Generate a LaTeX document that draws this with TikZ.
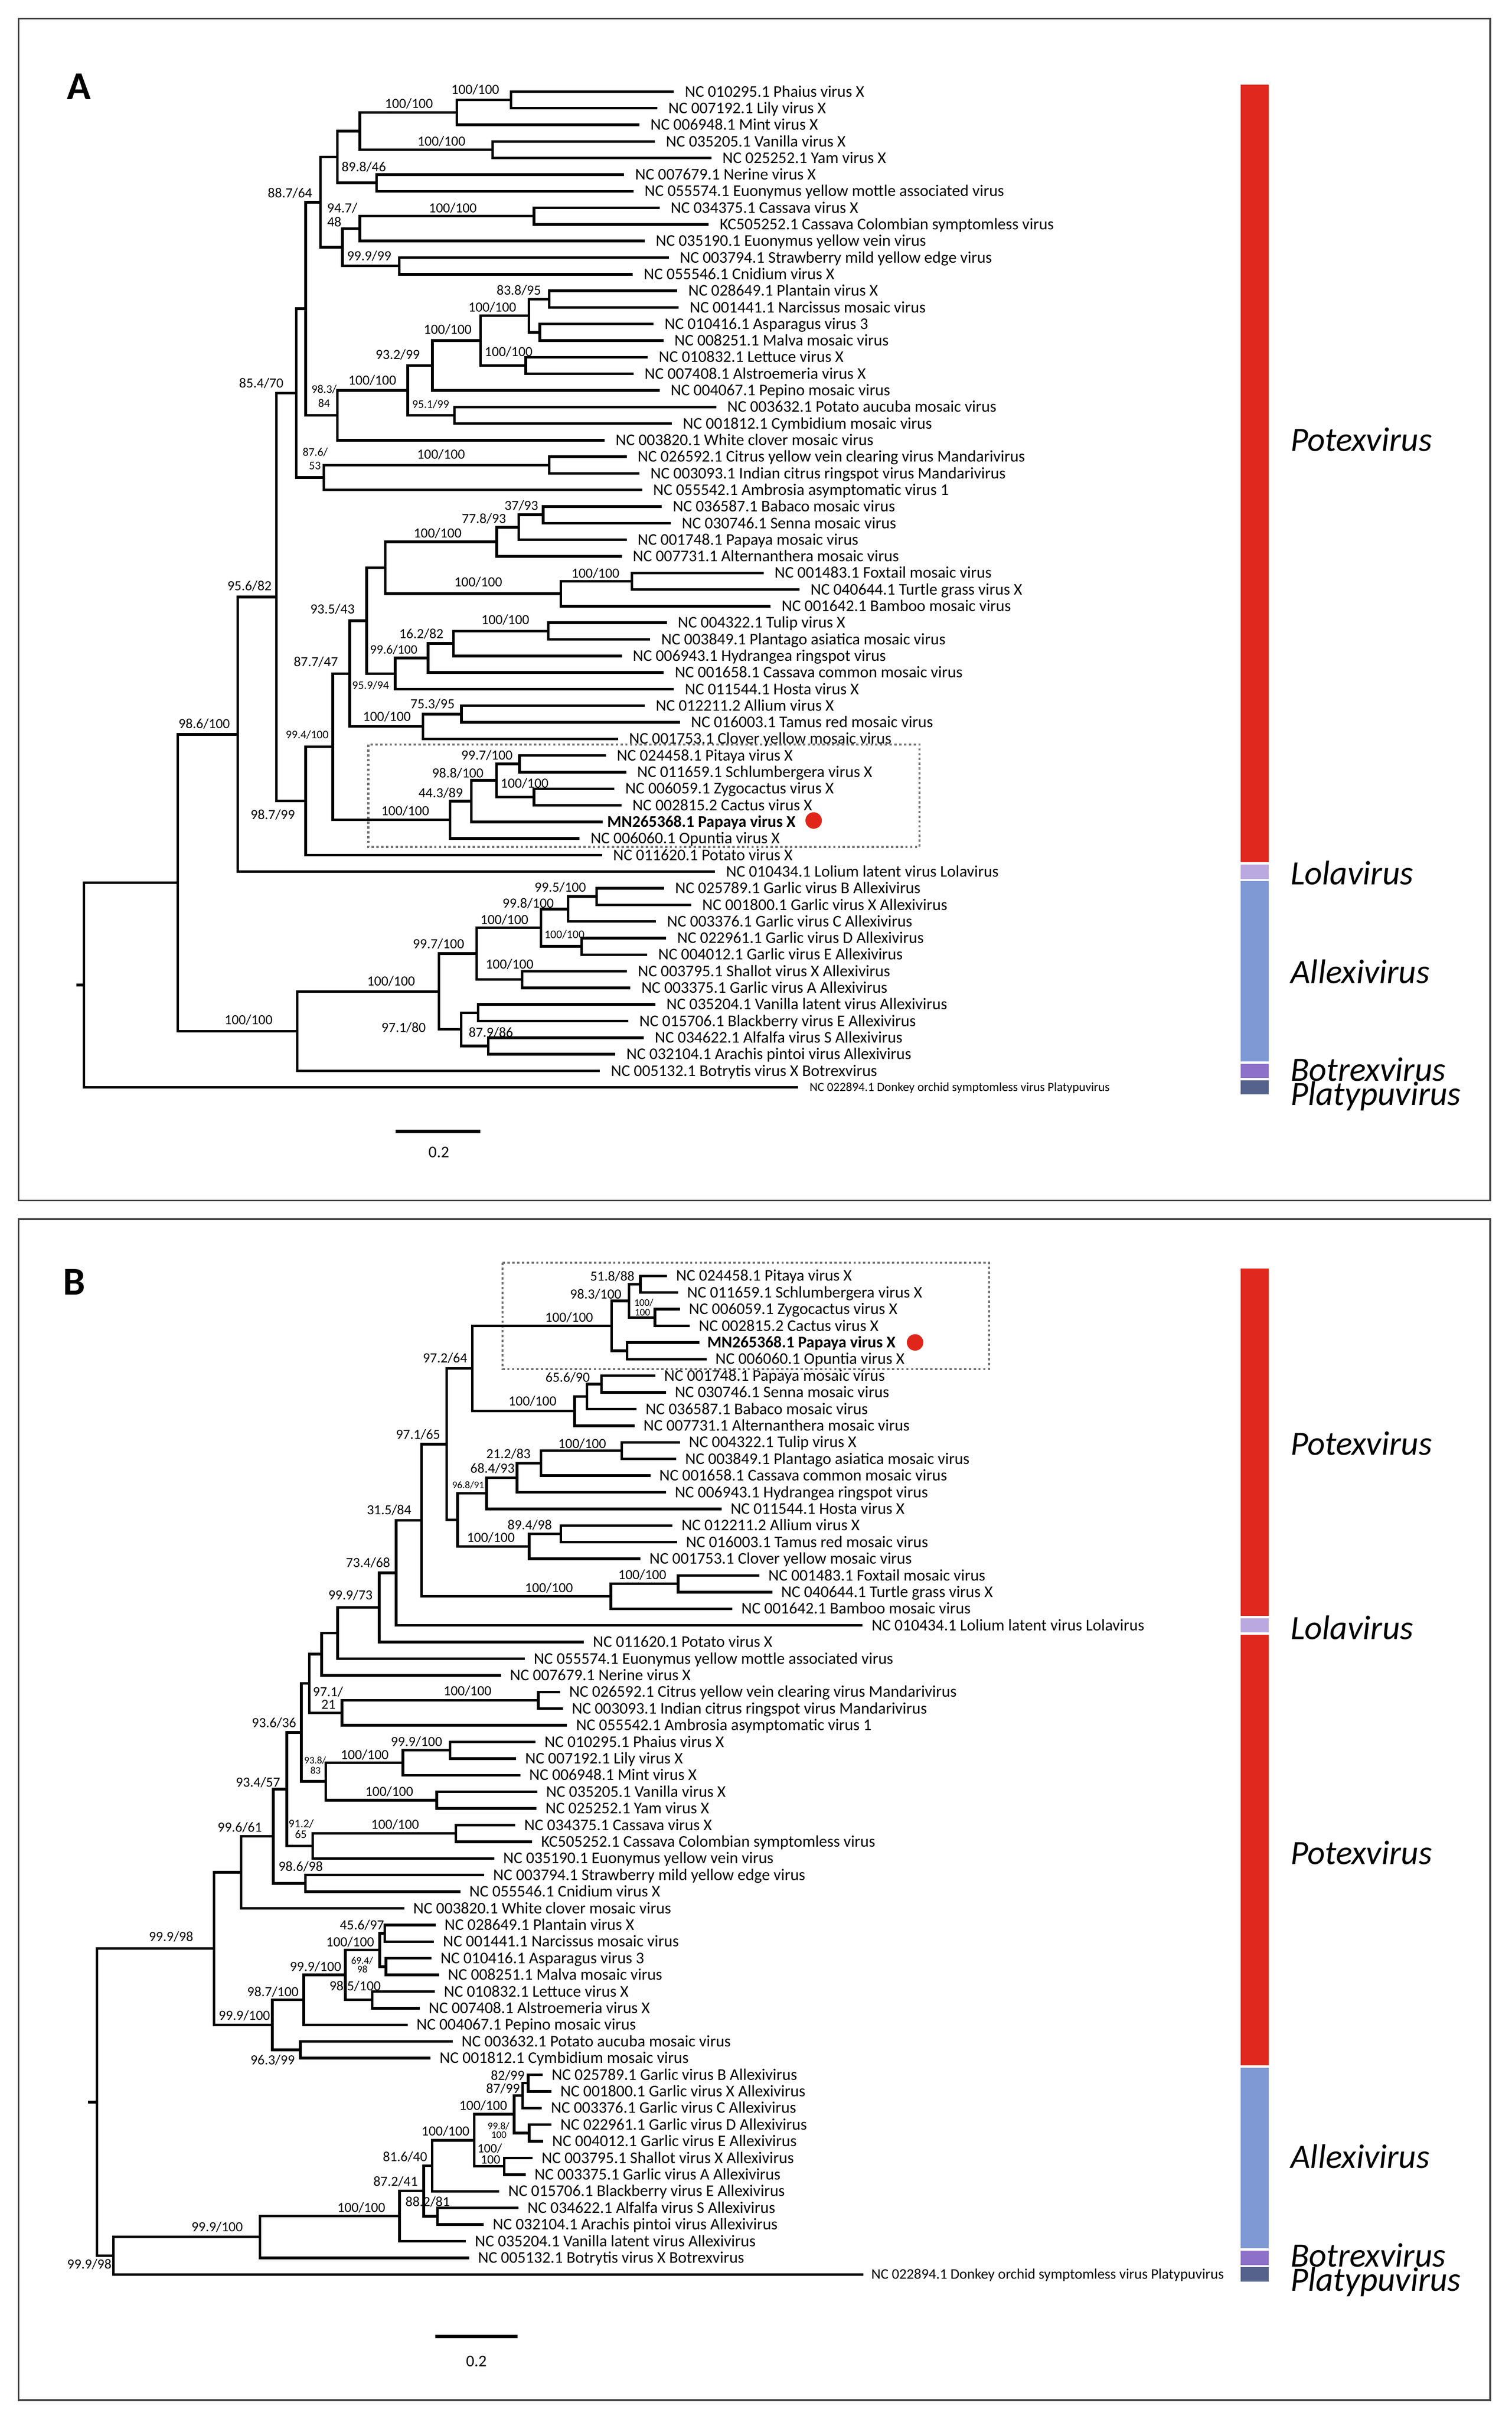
\documentclass[tikz,border=0pt]{standalone}
\usepackage{fontspec}
\setmainfont{Carlito}
\definecolor{potex}{HTML}{E0281E}
\definecolor{lola}{HTML}{B9A9E0}
\definecolor{allexi}{HTML}{7F99D4}
\definecolor{botrex}{HTML}{8D70C9}
\definecolor{platy}{HTML}{55638C}
\definecolor{dotred}{HTML}{E0261B}
\tikzset{
  br/.style={line width=1.7pt, line join=miter, line cap=butt},
  leaf/.style={anchor=west, inner sep=0pt, font=\fontsize{10.5}{12}\selectfont, text height=6.64pt, text depth=0pt},
  bs/.style={inner sep=0pt, font=\fontsize{9}{10}\selectfont, text height=5.69pt, text depth=0pt},
  bsm/.style={inner sep=0pt, font=\fontsize{8.3}{9}\selectfont, text height=5.25pt, text depth=0pt},
  bss/.style={inner sep=0pt, font=\fontsize{7.5}{8}\selectfont, text height=4.74pt, text depth=0pt},
  bsxs/.style={inner sep=0pt, font=\fontsize{6.5}{7}\selectfont, text height=4.1pt, text depth=0pt},
  genus/.style={anchor=west, inner sep=0pt, font=\fontsize{22}{24}\selectfont\itshape, text height=13.9pt, text depth=0pt},
  panelbox/.style={draw=black!75, line width=1.2pt},
  cladebox/.style={draw=black!55, line width=1.3pt, dash pattern=on 1.5pt off 1.6pt},
  panelletter/.style={inner sep=0pt, font=\fontsize{25.5}{28}\selectfont\bfseries, text height=16.1pt, text depth=0pt},
  scalebar/.style={line width=2.1pt},
  scaletext/.style={inner sep=0pt, font=\fontsize{10.5}{12}\selectfont, text height=6.64pt, text depth=0pt},
  reddot/.style={circle, fill=dotred, draw=none, minimum size=10.6pt, inner sep=0pt},
}
\begin{document}
\begin{tikzpicture}[x=1pt,y=-1pt]
\useasboundingbox (0,0) rectangle (975,1559.6);
\fill[white] (0,0) rectangle (975,1559.6);
% panel frames
\draw[panelbox] (12,12) rectangle (961,774);
\draw[panelbox] (12,786) rectangle (961,1547.5);
\node[panelletter] (letA) at (51,56.2) {A};
\node[panelletter] (letB) at (47.8,826.7) {B};

% ================= PANEL A =================
\draw[cladebox] (237.5,480) rectangle (593,546);
\begin{scope}[yshift=-48.4pt, y=-10.7pt]
\foreach \i/\x/\t in {
1/434.6/{NC 010295.1 Phaius virus X},
2/423.9/{NC 007192.1 Lily virus X},
3/412.4/{NC 006948.1 Mint virus X},
4/422.4/{NC 035205.1 Vanilla virus X},
5/458.8/{NC 025252.1 Yam virus X},
6/402.5/{NC 007679.1 Nerine virus X},
7/408.6/{NC 055574.1 Euonymus yellow mottle associated virus},
8/425.4/{NC 034375.1 Cassava virus X},
9/457.1/{KC505252.1 Cassava Colombian symptomless virus},
10/415.8/{NC 035190.1 Euonymus yellow vein virus},
11/431.3/{NC 003794.1 Strawberry mild yellow edge virus},
12/408.0/{NC 055546.1 Cnidium virus X},
13/436.8/{NC 028649.1 Plantain virus X},
14/437.7/{NC 001441.1 Narcissus mosaic virus},
15/421.5/{NC 010416.1 Asparagus virus 3},
16/427.8/{NC 008251.1 Malva mosaic virus},
17/417.8/{NC 010832.1 Lettuce virus X},
18/408.6/{NC 007408.1 Alstroemeria virus X},
19/425.4/{NC 004067.1 Pepino mosaic virus},
20/461.9/{NC 003632.1 Potato aucuba mosaic virus},
21/433.3/{NC 001812.1 Cymbidium mosaic virus},
22/389.9/{NC 003820.1 White clover mosaic virus},
23/404.1/{NC 026592.1 Citrus yellow vein clearing virus Mandarivirus},
24/412.4/{NC 003093.1 Indian citrus ringspot virus Mandarivirus},
25/414.1/{NC 055542.1 Ambrosia asymptomatic virus 1},
26/426.8/{NC 036587.1 Babaco mosaic virus},
27/432.6/{NC 030746.1 Senna mosaic virus},
28/404.1/{NC 001748.1 Papaya mosaic virus},
29/401.0/{NC 007731.1 Alternanthera mosaic virus},
30/492.4/{NC 001483.1 Foxtail mosaic virus},
31/515.6/{NC 040644.1 Turtle grass virus X},
32/497.0/{NC 001642.1 Bamboo mosaic virus},
33/430.0/{NC 004322.1 Tulip virus X},
34/419.3/{NC 003849.1 Plantago asiatica mosaic virus},
35/401.0/{NC 006943.1 Hydrangea ringspot virus},
36/428.1/{NC 001658.1 Cassava common mosaic virus},
37/434.6/{NC 011544.1 Hosta virus X},
38/415.8/{NC 012211.2 Allium virus X},
39/438.5/{NC 016003.1 Tamus red mosaic virus},
40/398.6/{NC 001753.1 Clover yellow mosaic virus},
41/390.7/{NC 024458.1 Pitaya virus X},
42/403.8/{NC 011659.1 Schlumbergera virus X},
43/396.2/{NC 006059.1 Zygocactus virus X},
44/400.8/{NC 002815.2 Cactus virus X},
46/373.8/{NC 006060.1 Opuntia virus X},
47/388.3/{NC 011620.1 Potato virus X},
48/461.1/{NC 010434.1 Lolium latent virus Lolavirus},
49/428.3/{NC 025789.1 Garlic virus B Allexivirus},
50/445.8/{NC 001800.1 Garlic virus X Allexivirus},
51/423.1/{NC 003376.1 Garlic virus C Allexivirus},
52/429.6/{NC 022961.1 Garlic virus D Allexivirus},
53/417.4/{NC 004012.1 Garlic virus E Allexivirus},
54/404.3/{NC 003795.1 Shallot virus X Allexivirus},
55/406.5/{NC 003375.1 Garlic virus A Allexivirus},
56/422.7/{NC 035204.1 Vanilla latent virus Allexivirus},
57/405.2/{NC 015706.1 Blackberry virus E Allexivirus},
58/415.2/{NC 034622.1 Alfalfa virus S Allexivirus},
59/396.9/{NC 032104.1 Arachis pintoi virus Allexivirus},
60/386.9/{NC 005132.1 Botrytis virus X Botrexvirus}}{
  \coordinate (A\i) at (\x,\i);
  \node[leaf] (tA\i) at ([xshift=6.9pt]A\i) {\t};
}
\coordinate (A45) at (388.6,45);
\node[leaf, font=\fontsize{10.5}{12}\selectfont\bfseries] (tA45) at ([xshift=2.8pt]A45) {MN265368.1 Papaya virus X};
\coordinate (A61) at (514.8,61);
\node[leaf, font=\fontsize{8}{9}\selectfont, text height=5.06pt] (tA61) at ([xshift=7.1pt]A61) {NC 022894.1 Donkey orchid symptomless virus Platypuvirus};
\foreach \n/\x/\r/\c/\d in {
a1/329.6/1.5/A1/A2, a2/294.6/2.25/a1/A3, a3/317.6/4.5/A4/A5, a4/232.0/3.375/a2/a3,
a5/242.9/6.5/A6/A7, a6/217.6/4.9375/a4/a5, a7/344.4/8.5/A8/A9, a8/232.0/9.25/a7/A10,
a9/257.5/11.5/A11/A12, a10/220.9/10.375/a8/a9, a11/206.7/7.65625/a6/a10,
a12/354.2/13.5/A13/A14, a13/348.1/15.5/A15/A16, a14/341.1/14.5/a12/a13,
a15/339.0/17.5/A17/A18, a16/309.9/16/a14/a15, a17/278.9/17.5/a16/A19,
a18/293.1/20.5/A20/A21, a19/263.0/19/a17/a18, a20/217.6/20.5/a19/A22,
a21/197.1/14.078/a11/a20, a22/354.2/23.5/A23/A24, a23/208.9/24.25/a22/A25,
a24/191.0/19.164/a21/a23, a25/350.3/26.5/A26/A27, a26/334.6/27.25/a25/A28,
a27/320.4/28.125/a26/A29, a28/407.6/30.5/A30/A31, a29/361.7/31.25/a28/A32,
a30/248.4/29.6875/a27/a29, a31/353.6/33.5/A33/A34, a32/292.4/34.25/a31/A35,
a33/276.1/35.125/a32/A36, a34/254.9/36.0625/a33/A37, a35/236.4/32.875/a30/a34,
a36/297.5/38.5/A38/A39, a37/272.8/39.25/a36/A40, a38/225.5/36.0625/a35/a37,
a39/335.0/41.5/A41/A42, a40/344.4/43.5/A43/A44, a41/320.2/42.5/a39/a40,
a42/304.0/43.75/a41/A45, a43/290.3/44.875/a42/A46, a44/214.6/40.469/a38/a43,
a45/197.1/43.734/a44/A47, a46/178.3/31.449/a24/a45, a47/153.3/39.725/a46/A48,
a48/384.7/49.5/A49/A50, a49/366.3/50.25/a48/A51, a50/375.1/52.5/A52/A53,
a51/348.9/51.375/a49/a50, a52/336.7/54.5/A54/A55, a53/307.4/52.9375/a51/a52,
a54/308.3/56.5/A56/A57, a55/314.8/58.5/A58/A59, a56/297.4/57.5/a54/a55,
a57/283.0/55.219/a53/a56, a58/191.7/57.609/a57/A60, a59/114.6/48.667/a47/a58,
rA/54.2/54.833/a59/A61}{
  \coordinate (\n) at (\x,\r);
  \draw[br] (\c) -| (\n) |- (\d);
}
\coordinate (rAs) at (49.4,54.833);
\draw[br] (rA) -- (rAs);
% genus bars
\fill[potex] (800,0.57) rectangle (818,47.43);
\fill[lola] (800,47.57) rectangle (818,48.43);
\fill[allexi] (800,48.57) rectangle (818,59.43);
\fill[botrex] (800,59.57) rectangle (818,60.43);
\fill[platy] (800,60.57) rectangle (818,61.43);
\end{scope}
\foreach \x/\y/\t [count=\k] in {
306.5/57.8/{100/100}, 263.7/67.0/{100/100}, 284.7/91.2/{100/100}, 234.6/107.8/{89.8/46},
292.0/134.3/{100/100}, 238.1/165.0/{99.9/99}, 187.0/124.5/{88.7/64}, 334.6/187.2/{83.8/95},
317.5/198.3/{100/100}, 328.0/226.9/{100/100}, 288.7/212.6/{100/100}, 256.5/228.9/{93.2/99},
240.1/245.4/{100/100}, 168.5/247.2/{85.4/70}, 284.4/292.9/{100/100}, 336.2/326.1/{37/93},
312.1/334.5/{77.8/93}, 282.2/343.7/{100/100}, 384.0/369.6/{100/100}, 308.4/375.5/{100/100},
325.9/399.6/{100/100}, 271.7/408.6/{16.2/82}, 214.4/392.9/{93.5/43}, 278.9/454.1/{75.3/95},
249.5/462.1/{100/100}, 203.7/426.8/{87.7/47}, 314.0/487.1/{99.7/100}, 338.3/505.0/{100/100},
295.2/498.7/{98.8/100}, 284.2/511.2/{44.3/89}, 261.3/522.8/{100/100}, 175.9/525.5/{98.7/99},
160.9/377.9/{95.6/82}, 131.7/466.6/{98.6/100}, 361.3/572.2/{99.5/100}, 340.6/582.6/{99.8/100},
325.3/593.0/{100/100}, 328.6/621.8/{100/100}, 282.8/608.6/{99.7/100}, 316.6/665.9/{87.9/86},
260.3/662.7/{97.1/80}, 252.2/632.6/{100/100}, 160.3/657.6/{100/100},
220.7/134.3/{94.7/}, 215.6/143.2/{48}}{
  \node[bs] (lA\k) at (\x,\y) {\t};
}
\foreach \x/\y/\t [count=\k] in {
277.7/260.6/{95.1/99}, 239.0/442.1/{95.9/94}, 198.1/473.7/{99.4/100}, 364.0/602.5/{100/100},
209.0/251.1/{98.3/}, 209.0/260.2/{84}, 203.3/291.6/{87.6/}, 203.1/300.5/{53}}{
  \node[bss] (sA\k) at (\x,\y) {\t};
}
\node[bsm] (mA1) at (253.9,418.9) {99.6/100};
\node[reddot] (dotA) at (524.7,529) {};
\coordinate (sbA1) at (255,729.4);
\coordinate (sbA2) at (309.6,729.4);
\draw[scalebar] (sbA1) -- (sbA2);
\node[scaletext] (sbAt) at (283,743) {0.2};
\node[genus] (gA1) at (832,284) {Potexvirus};
\node[genus] (gA2) at (832,563.5) {Lolavirus};
\node[genus] (gA3) at (832,627) {Allexivirus};
\node[genus] (gA4) at (832,690) {Botrexvirus};
\node[genus] (gA5) at (832,705.5) {Platypuvirus};

% ================= PANEL B =================
\draw[cladebox] (324.2,814.2) rectangle (637.8,882.6);
\begin{scope}[yshift=-811.87pt, y=-10.73pt]
\foreach \i/\x/\t in {
1/430.2/{NC 024458.1 Pitaya virus X},
2/437.3/{NC 011659.1 Schlumbergera virus X},
3/438.5/{NC 006059.1 Zygocactus virus X},
4/444.9/{NC 002815.2 Cactus virus X},
6/455.6/{NC 006060.1 Opuntia virus X},
7/422.5/{NC 001748.1 Papaya mosaic virus},
8/429.4/{NC 030746.1 Senna mosaic virus},
9/410.6/{NC 036587.1 Babaco mosaic virus},
10/409.2/{NC 007731.1 Alternanthera mosaic virus},
11/438.5/{NC 004322.1 Tulip virus X},
12/436.1/{NC 003849.1 Plantago asiatica mosaic virus},
13/419.4/{NC 001658.1 Cassava common mosaic virus},
14/429.4/{NC 006943.1 Hydrangea ringspot virus},
15/465.4/{NC 011544.1 Hosta virus X},
16/433.7/{NC 012211.2 Allium virus X},
17/436.6/{NC 016003.1 Tamus red mosaic virus},
18/413.0/{NC 001753.1 Clover yellow mosaic virus},
19/489.7/{NC 001483.1 Foxtail mosaic virus},
20/498.0/{NC 040644.1 Turtle grass virus X},
21/472.3/{NC 001642.1 Bamboo mosaic virus},
22/556.3/{NC 010434.1 Lolium latent virus Lolavirus},
23/376.6/{NC 011620.1 Potato virus X},
24/338.4/{NC 055574.1 Euonymus yellow mottle associated virus},
25/323.1/{NC 007679.1 Nerine virus X},
26/361.3/{NC 026592.1 Citrus yellow vein clearing virus Mandarivirus},
27/363.0/{NC 003093.1 Indian citrus ringspot virus Mandarivirus},
28/365.7/{NC 055542.1 Ambrosia asymptomatic virus 1},
29/345.4/{NC 010295.1 Phaius virus X},
30/332.9/{NC 007192.1 Lily virus X},
31/335.5/{NC 006948.1 Mint virus X},
32/346.4/{NC 035205.1 Vanilla virus X},
33/346.0/{NC 025252.1 Yam virus X},
34/332.3/{NC 034375.1 Cassava virus X},
35/343.2/{KC505252.1 Cassava Colombian symptomless virus},
36/318.7/{NC 035190.1 Euonymus yellow vein virus},
37/312.2/{NC 003794.1 Strawberry mild yellow edge virus},
38/296.9/{NC 055546.1 Cnidium virus X},
39/260.7/{NC 003820.1 White clover mosaic virus},
40/280.9/{NC 028649.1 Plantain virus X},
41/279.9/{NC 001441.1 Narcissus mosaic virus},
42/278.3/{NC 010416.1 Asparagus virus 3},
43/283.1/{NC 008251.1 Malva mosaic virus},
44/280.5/{NC 010832.1 Lettuce virus X},
45/270.7/{NC 007408.1 Alstroemeria virus X},
46/262.8/{NC 004067.1 Pepino mosaic virus},
47/291.9/{NC 003632.1 Potato aucuba mosaic virus},
48/277.7/{NC 001812.1 Cymbidium mosaic virus},
49/350.0/{NC 025789.1 Garlic virus B Allexivirus},
50/355.6/{NC 001800.1 Garlic virus X Allexivirus},
51/349.5/{NC 003376.1 Garlic virus C Allexivirus},
52/355.6/{NC 022961.1 Garlic virus D Allexivirus},
53/350.3/{NC 004012.1 Garlic virus E Allexivirus},
54/343.5/{NC 003795.1 Shallot virus X Allexivirus},
55/338.9/{NC 003375.1 Garlic virus A Allexivirus},
56/322.0/{NC 015706.1 Blackberry virus E Allexivirus},
57/334.4/{NC 034622.1 Alfalfa virus S Allexivirus},
58/312.0/{NC 032104.1 Arachis pintoi virus Allexivirus},
59/300.5/{NC 035204.1 Vanilla latent virus Allexivirus},
60/302.5/{NC 005132.1 Botrytis virus X Botrexvirus}}{
  \coordinate (B\i) at (\x,\i);
  \node[leaf] (tB\i) at ([xshift=5.6pt]B\i) {\t};
}
\coordinate (B5) at (450.9,5);
\node[leaf, font=\fontsize{10.5}{12}\selectfont\bfseries] (tB5) at ([xshift=5pt]B5) {MN265368.1 Papaya virus X};
\coordinate (B61) at (556.7,61);
\node[leaf, font=\fontsize{9.4}{11}\selectfont, text height=5.94pt] (tB61) at ([xshift=5pt]B61) {NC 022894.1 Donkey orchid symptomless virus Platypuvirus};
\foreach \n/\x/\r/\c/\d in {
b1/413.0/1.5/B1/B2, b2/422.3/3.5/B3/B4, b3/405.6/2.5/b1/b2, b4/404.4/5.5/B5/B6,
b5/394.4/4/b3/b4, b6/387.8/7.5/B7/B8, b7/378.5/8.25/b6/B9, b8/370.6/9.125/b7/B10,
b9/304.5/6.5625/b5/b8, b10/400.9/11.5/B11/B12, b11/348.9/12.25/b10/B13,
b12/333.5/13.125/b11/B14, b13/313.8/14.0625/b12/B15, b14/361.6/16.5/B16/B17,
b15/341.3/17.25/b14/B18, b16/295.1/15.656/b13/b15, b17/288.1/11.109/b9/b16,
b18/437.3/19.5/B19/B20, b19/393.9/20.25/b18/B21, b20/271.8/15.680/b17/b19,
b21/255.4/18.840/b20/B22, b22/244.5/20.920/b21/B23, b23/217.7/22.460/b22/B24,
b24/207.4/23.730/b23/B25, b25/347.1/26.5/B26/B27, b26/220.5/27.25/b25/B28,
b27/199.5/25.490/b24/b26, b28/290.3/29.5/B29/B30, b29/259.8/30.25/b28/B31,
b30/281.6/32.5/B32/B33, b31/210.0/31.375/b29/b30, b32/194.3/28.433/b27/b31,
b33/294.0/34.5/B34/B35, b34/201.7/35.25/b33/B36, b35/185.0/31.841/b32/b34,
b36/196.9/37.5/B37/B38, b37/176.2/34.671/b35/b36, b38/155.5/36.835/b37/B39,
b39/248.2/40.5/B40/B41, b40/248.9/42.5/B42/B43, b41/244.9/41.5/b39/b40,
b42/240.1/44.5/B44/B45, b43/222.7/43/b41/b42, b44/195.9/44.5/b43/B46,
b45/193.7/47.5/B47/B48, b46/175.6/46/b44/b45, b47/138.0/41.418/b38/b46,
b48/340.6/49.5/B49/B50, b49/337.1/50.25/b48/B51, b50/341.3/52.5/B52/B53,
b51/331.6/51.375/b49/b50, b52/325.2/54.5/B54/B55, b53/305.9/52.938/b51/b52,
b54/278.7/54.469/b53/B56, b55/282.1/57.5/B57/B58, b56/273.2/55.984/b54/b55,
b57/257.7/57.492/b56/B59, b58/167.6/58.746/b57/B60, b59/73.2/59.873/b58/B61,
rB/62.5/50.645/b47/b59}{
  \coordinate (\n) at (\x,\r);
  \draw[br] (\c) -| (\n) |- (\d);
}
\coordinate (rBs) at (56.9,50.645);
\draw[br] (rB) -- (rBs);
\fill[potex] (800,0.57) rectangle (818,21.43);
\fill[lola] (800,21.57) rectangle (818,22.43);
\fill[potex] (800,22.57) rectangle (818,48.43);
\fill[allexi] (800,48.57) rectangle (818,59.43);
\fill[botrex] (800,59.57) rectangle (818,60.43);
\fill[platy] (800,60.57) rectangle (818,61.43);
\end{scope}
\foreach \x/\y/\t [count=\k] in {
394.9/823.1/{51.8/88}, 384.2/834.4/{98.3/100}, 367.0/849.4/{100/100}, 366.1/888.0/{65.6/90},
343.4/903.5/{100/100}, 287.0/875.8/{97.2/64}, 375.4/930.8/{100/100}, 327.9/937.4/{21.2/83},
317.6/946.9/{68.4/93}, 341.6/983.3/{89.4/98}, 316.5/991.5/{100/100}, 269.6/924.9/{97.1/65},
414.2/1015.4/{100/100}, 354.0/1023.7/{100/100}, 250.9/973.7/{31.5/84}, 237.3/1007.6/{73.4/68},
226.0/1028.5/{99.9/73}, 301.5/1090.2/{100/100}, 211.5/1091.0/{97.1/}, 211.8/1098.9/{21},
268.6/1123.0/{99.9/100}, 235.2/1131.5/{100/100}, 251.0/1155.1/{100/100}, 176.7/1110.7/{93.6/36},
254.8/1176.2/{100/100}, 166.4/1149.2/{93.4/57}, 193.9/1203.5/{98.6/98}, 154.6/1178.2/{99.6/61},
233.4/1241.1/{45.6/97}, 225.8/1252.1/{100/100}, 229.0/1280.4/{98.5/100}, 203.5/1268.1/{99.9/100},
176.0/1284.4/{98.7/100}, 175.8/1328.3/{96.3/99}, 157.6/1299.6/{99.9/100}, 110.3/1248.7/{99.9/98},
327.4/1338.3/{82/99}, 324.4/1346.8/{87/99}, 311.6/1357.6/{100/100}, 287.3/1374.0/{100/100},
261.2/1390.6/{81.6/40}, 275.8/1419.7/{88.2/81}, 255.1/1406.7/{87.2/41}, 233.0/1423.4/{100/100},
140.0/1436.0/{99.9/100}, 57.6/1459.8/{99.9/98}}{
  \node[bs] (lB\k) at (\x,\y) {\t};
}
\foreach \x/\y/\t [count=\k] in {
415.2/840.1/{100/}, 414.3/846.3/{100}, 301.9/957.6/{96.8/91}, 203.2/1134.9/{93.8/},
203.5/1141.6/{83}, 233.5/1264.2/{69.4/}, 233.7/1269.8/{98}, 321.5/1371.0/{99.8/},
321.7/1376.5/{100}}{
  \node[bsxs] (xB\k) at (\x,\y) {\t};
}
\node[bss] (sB1) at (194.2,1175.8) {91.2/};
\node[bss] (sB2) at (194.0,1182.9) {65};
\node[bsm] (mB1) at (315.8,1385.4) {100/};
\node[bsm] (mB2) at (316.3,1392.4) {100};
\node[reddot] (dotB) at (590.1,865.5) {};
\coordinate (sbB1) at (280.7,1506.4);
\coordinate (sbB2) at (333.7,1506.4);
\draw[scalebar] (sbB1) -- (sbB2);
\node[scaletext] (sbBt) at (307.2,1522.3) {0.2};
\node[genus] (gB1) at (832,931) {Potexvirus};
\node[genus] (gB2) at (832,1050) {Lolavirus};
\node[genus] (gB3) at (832,1195) {Potexvirus};
\node[genus] (gB4) at (832,1391) {Allexivirus};
\node[genus] (gB5) at (832,1454.5) {Botrexvirus};
\node[genus] (gB6) at (832,1470) {Platypuvirus};
\end{tikzpicture}
\end{document}
